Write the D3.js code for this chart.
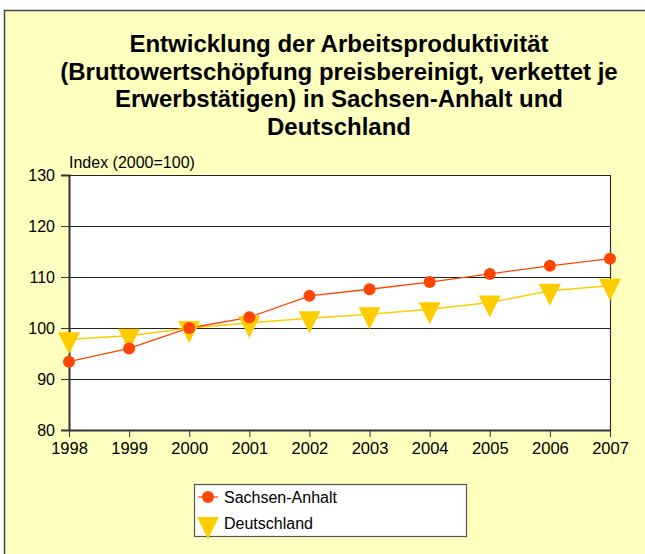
<!DOCTYPE html>
<html><head><meta charset="utf-8">
<script src="https://cdn.jsdelivr.net/npm/d3@7"></script>
<style>html,body{margin:0;padding:0;background:#fff;}svg{display:block;font-family:Arial,"Liberation Sans",sans-serif;}</style>
</head><body>
<svg id="c" width="645" height="554"></svg>
<script>
const years = [1998,1999,2000,2001,2002,2003,2004,2005,2006,2007];
const sachsenAnhalt = [93.4,96.0,100.0,102.1,106.3,107.6,109.0,110.6,112.2,113.6];
const deutschland = [97.8,98.5,100.0,101.0,101.9,102.7,103.7,105.0,107.3,108.3];
const yTicks = [80,90,100,110,120,130];
const titleLines = ["Entwicklung der Arbeitsproduktivität","(Bruttowertschöpfung preisbereinigt, verkettet je","Erwerbstätigen) in Sachsen-Anhalt und","Deutschland"];
const seriesNames = ["Sachsen-Anhalt","Deutschland"];

const svg = d3.select("#c");
const colA = "#FF4500", colB = "#FFCC00";

svg.append("rect").attr("x",4.5).attr("y",10.5).attr("width",700).attr("height",600)
  .attr("fill","#FFFFC0").attr("stroke","#444").attr("stroke-width",1.5);

const t = svg.append("text").attr("text-anchor","middle").attr("font-weight","bold")
  .attr("font-size",24).attr("fill","#000");
titleLines.forEach((l,i)=>t.append("tspan").attr("x",339).attr("y",52+i*27.5).text(l));

const x = d3.scalePoint().domain(years).range([69,610]);
const y = d3.scaleLinear().domain([80,130]).range([430,175]);

svg.append("rect").attr("x",69).attr("y",175).attr("width",541).attr("height",255).attr("fill","#fff");

// gridlines
svg.append("g").selectAll("line").data(yTicks.filter(d=>d>80)).join("line")
  .attr("x1",69).attr("x2",610).attr("y1",d=>Math.round(y(d))+0.5).attr("y2",d=>Math.round(y(d))+0.5)
  .attr("stroke","#222").attr("stroke-width",1.2);
svg.append("line").attr("x1",610.5).attr("x2",610.5).attr("y1",175).attr("y2",430).attr("stroke","#333").attr("stroke-width",1.2);

const yAxis = svg.append("g").attr("transform","translate(69,0)")
  .call(d3.axisLeft(y).tickValues(yTicks).tickSize(8).tickPadding(6));
yAxis.select(".domain").attr("stroke","#333").attr("stroke-width",2);
yAxis.selectAll(".tick line").attr("stroke","#333");
yAxis.selectAll("text").attr("font-size",16).attr("fill","#000").attr("font-family","Arial,'Liberation Sans',sans-serif");

const xAxis = svg.append("g").attr("transform","translate(0,430)")
  .call(d3.axisBottom(x).tickSize(7).tickPadding(5).tickSizeOuter(0));
xAxis.select(".domain").attr("stroke","#333").attr("stroke-width",2);
xAxis.selectAll(".tick line").attr("stroke","#333");
xAxis.selectAll("text").attr("font-size",16.5).attr("fill","#000").attr("font-family","Arial,'Liberation Sans',sans-serif");

svg.append("text").attr("x",69).attr("y",168).attr("font-size",16).attr("fill","#000").text("Index (2000=100)");

const line = d3.line().x((d,i)=>x(years[i])).y(d=>y(d));
svg.append("path").datum(deutschland).attr("d",line).attr("fill","none").attr("stroke",colB).attr("stroke-width",1.5);
svg.append("path").datum(sachsenAnhalt).attr("d",line).attr("fill","none").attr("stroke",colA).attr("stroke-width",1.3);

const tri = (cx,cy)=>`M${cx-11},${cy-7}L${cx+11},${cy-7}L${cx},${cy+15}Z`;
svg.append("g").selectAll("path").data(deutschland).join("path")
  .attr("d",(d,i)=>tri(x(years[i]),y(d))).attr("fill",colB);
svg.append("g").selectAll("circle").data(sachsenAnhalt).join("circle")
  .attr("cx",(d,i)=>x(years[i])).attr("cy",d=>y(d)).attr("r",6).attr("fill",colA);

// legend
const lg = svg.append("g");
lg.append("rect").attr("x",194.5).attr("y",484.5).attr("width",272).attr("height",52)
  .attr("fill","#fff").attr("stroke","#555").attr("stroke-width",1.2);
lg.append("line").attr("x1",198).attr("x2",218).attr("y1",497).attr("y2",497).attr("stroke",colA).attr("stroke-width",1.3);
lg.append("circle").attr("cx",208).attr("cy",497).attr("r",6).attr("fill",colA);
lg.append("path").attr("d",tri(208,524)).attr("fill",colB);
lg.append("text").attr("x",224).attr("y",503).attr("font-size",16).text(seriesNames[0]);
lg.append("text").attr("x",224).attr("y",529).attr("font-size",16).text(seriesNames[1]);
</script>
</body></html>
